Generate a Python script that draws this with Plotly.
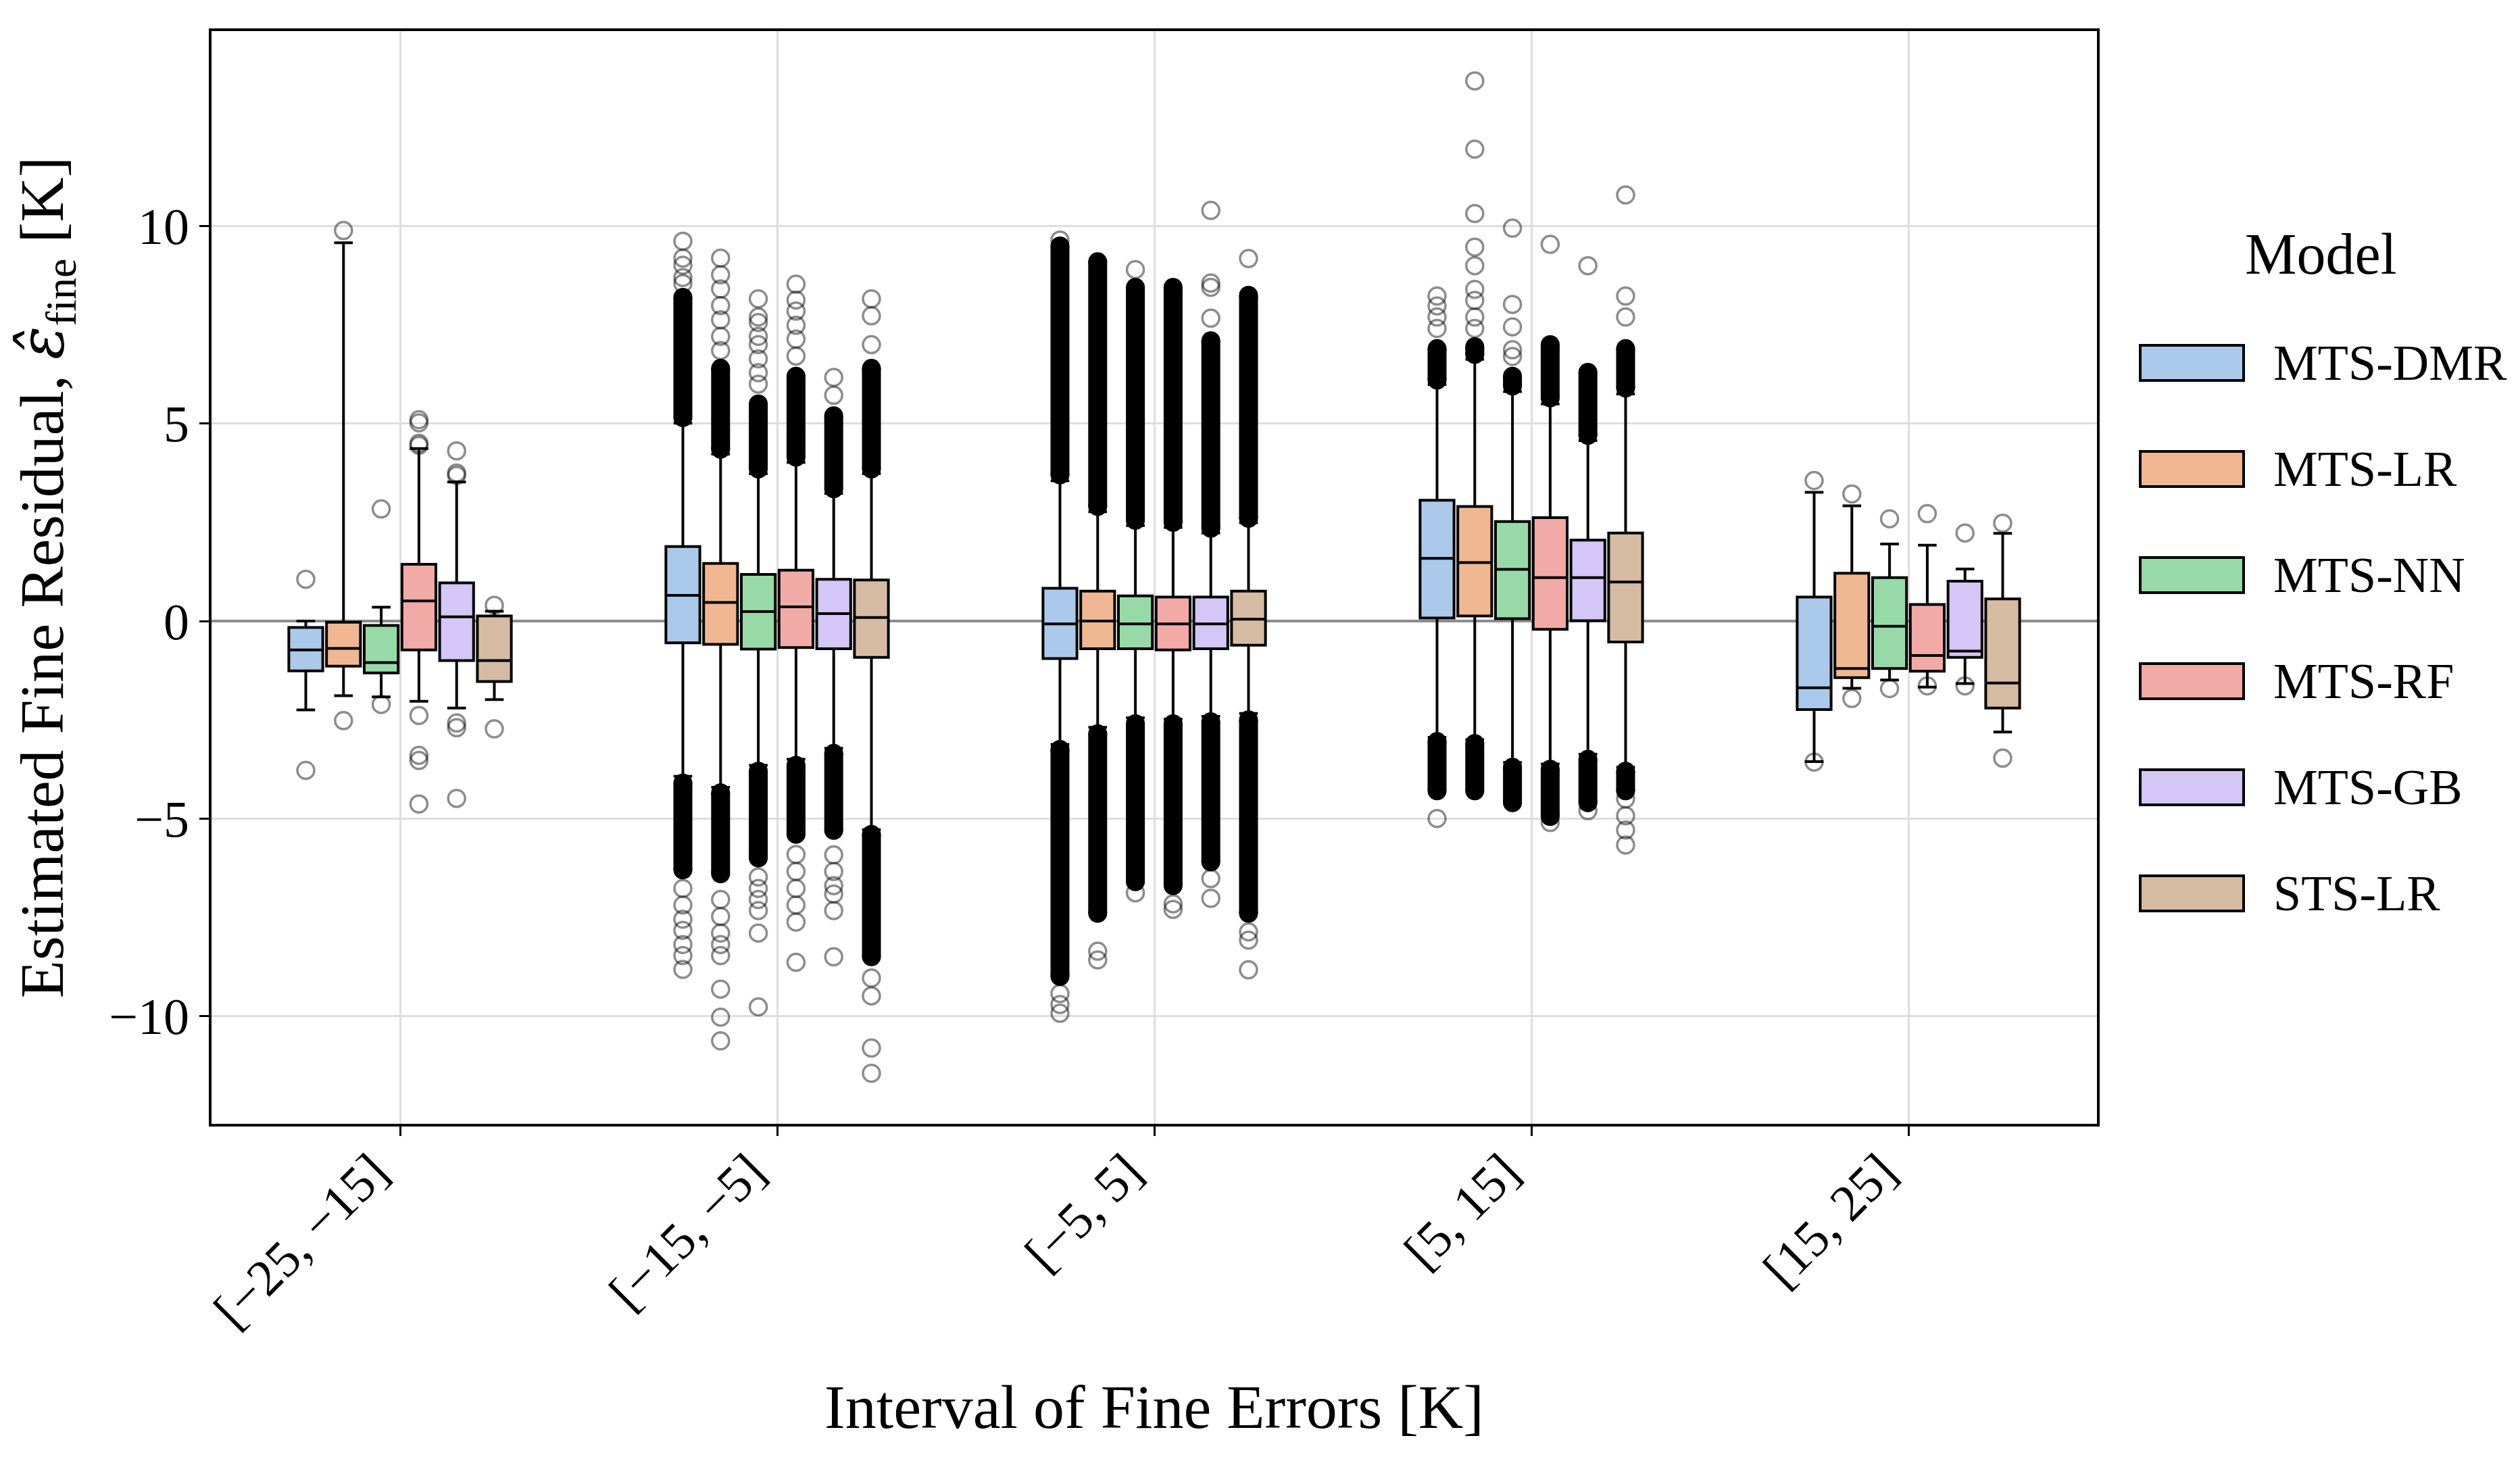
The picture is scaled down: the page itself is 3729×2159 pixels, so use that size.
import plotly.graph_objects as go

# ---------------- data ----------------
CATEGORIES = ["[−25, −15]", "[−15, −5]", "[−5, 5]", "[5, 15]", "[15, 25]"]
MODELS = ["MTS-DMR", "MTS-LR", "MTS-NN", "MTS-RF", "MTS-GB", "STS-LR"]

Q1 = {
    "MTS-DMR": [-1.26, -0.55, -0.95, 0.08, -2.24],
    "MTS-LR":  [-1.14, -0.59, -0.70, 0.13, -1.43],
    "MTS-NN":  [-1.31, -0.71, -0.70, 0.06, -1.20],
    "MTS-RF":  [-0.73, -0.67, -0.73, -0.21, -1.27],
    "MTS-GB":  [-1.00, -0.70, -0.70, 0.01, -0.92],
    "STS-LR":  [-1.53, -0.92, -0.61, -0.53, -2.20],
}
MEDIAN = {
    "MTS-DMR": [-0.73, 0.65, -0.07, 1.59, -1.69],
    "MTS-LR":  [-0.69, 0.47, 0.00, 1.48, -1.20],
    "MTS-NN":  [-1.05, 0.24, -0.07, 1.31, -0.13],
    "MTS-RF":  [0.51, 0.36, -0.07, 1.10, -0.87],
    "MTS-GB":  [0.11, 0.19, -0.07, 1.10, -0.76],
    "STS-LR":  [-1.00, 0.09, 0.05, 0.99, -1.57],
}
Q3 = {
    "MTS-DMR": [-0.16, 1.89, 0.83, 3.06, 0.61],
    "MTS-LR":  [-0.03, 1.46, 0.76, 2.90, 1.21],
    "MTS-NN":  [-0.11, 1.18, 0.64, 2.52, 1.10],
    "MTS-RF":  [1.44, 1.29, 0.61, 2.62, 0.42],
    "MTS-GB":  [0.97, 1.06, 0.61, 2.05, 1.01],
    "STS-LR":  [0.13, 1.04, 0.76, 2.23, 0.56],
}
LOWER_WHISKER = {
    "MTS-DMR": [-2.25, -3.93, -3.12, -2.94, -3.56],
    "MTS-LR":  [-1.89, -4.21, -2.69, -3.00, -1.70],
    "MTS-NN":  [-1.92, -3.65, -2.45, -3.58, -1.49],
    "MTS-RF":  [-2.03, -3.50, -2.48, -3.62, -1.67],
    "MTS-GB":  [-2.20, -3.22, -2.41, -3.37, -1.58],
    "STS-LR":  [-1.99, -5.28, -2.34, -3.70, -2.81],
}
UPPER_WHISKER = {
    "MTS-DMR": [0.00, 5.01, 3.55, 5.99, 3.26],
    "MTS-LR":  [9.58, 4.23, 2.77, 6.63, 2.92],
    "MTS-NN":  [0.35, 3.73, 2.42, 5.81, 1.95],
    "MTS-RF":  [4.37, 4.02, 2.37, 5.50, 1.92],
    "MTS-GB":  [3.52, 3.23, 2.23, 4.57, 1.32],
    "STS-LR":  [0.25, 3.73, 2.49, 5.75, 2.22],
}
# individually visible outliers, per interval
OUTLIERS = {
    "MTS-DMR": [[1.06, -3.78],
                [8.55, 8.70, 9.01, 9.19, 9.62, -6.77, -7.19, -7.55, -7.83, -8.19, -8.47, -8.82],
                [9.65, -9.43, -9.71, -9.93],
                [7.41, 7.70, 7.98, 8.23, -5.00],
                [3.56, -3.57]],
    "MTS-LR":  [[9.89, -2.52],
                [6.85, 7.21, 7.63, 7.99, 8.41, 8.77, 9.19, -7.05, -7.48, -7.90, -8.19, -8.47, -9.32, -10.03, -10.63],
                [-8.36, -8.58],
                [7.41, 7.70, 8.12, 8.40, 9.00, 9.47, 10.32, 11.95, 13.68],
                [3.22, -1.96]],
    "MTS-NN":  [[2.84, -2.11],
                [6.00, 6.29, 6.64, 7.00, 7.21, 7.56, 7.70, 8.16, -6.48, -6.77, -7.05, -7.33, -7.90, -9.77],
                [8.90, -6.88],
                [6.70, 6.87, 7.45, 8.02, 9.95],
                [2.59, -1.71]],
    "MTS-RF":  [[5.10, 5.02, 4.50, 4.45, -2.39, -3.40, -3.53, -4.63],
                [6.71, 7.14, 7.49, 7.85, 8.13, 8.53, -5.91, -6.34, -6.77, -7.19, -7.62, -8.64],
                [-7.16, -7.30],
                [9.54, -5.10],
                [2.72, -1.64]],
    "MTS-GB":  [[4.31, 3.75, 3.69, -2.58, -2.70, -4.49],
                [5.72, 6.17, -5.92, -6.34, -6.70, -6.91, -7.33, -8.50],
                [7.67, 8.45, 8.56, 10.40, -6.52, -7.02],
                [9.00, -4.80],
                [2.23, -1.64]],
    "STS-LR":  [[0.40, -2.73],
                [7.00, 7.73, 8.16, -9.04, -9.49, -10.81, -11.45],
                [9.18, -7.87, -8.08, -8.83],
                [7.70, 8.23, 10.79, -4.50, -4.93, -5.29, -5.67],
                [2.48, -3.47]],
}
# ranges where outliers overlap into a solid column (low, high), per interval
DENSE = {
    "MTS-DMR": [[], [(5.15, 8.20), (-4.10, -6.30)], [(3.70, 9.50), (-3.25, -9.00)], [(6.10, 6.90), (-3.05, -4.30)], []],
    "MTS-LR":  [[], [(4.35, 6.40), (-4.35, -6.40)], [(2.90, 9.10), (-2.85, -7.40)], [(6.75, 6.95), (-3.10, -4.30)], []],
    "MTS-NN":  [[], [(3.85, 5.50), (-3.80, -6.00)], [(2.55, 8.45), (-2.60, -6.60)], [(5.95, 6.20), (-3.70, -4.60)], []],
    "MTS-RF":  [[], [(4.15, 6.20), (-3.65, -5.40)], [(2.50, 8.45), (-2.60, -6.70)], [(5.65, 7.00), (-3.75, -4.95)], []],
    "MTS-GB":  [[], [(3.35, 5.20), (-3.35, -5.30)], [(2.35, 7.10), (-2.55, -6.10)], [(4.70, 6.30), (-3.50, -4.60)], []],
    "STS-LR":  [[], [(3.85, 6.40), (-5.40, -8.50)], [(2.60, 8.25), (-2.50, -7.40)], [(5.90, 6.90), (-3.80, -4.30)], []],
}

Y_TICKS = [-10, -5, 0, 5, 10]

# ---------------- style ----------------
COLORS = {
    "MTS-DMR": "rgb(171,201,234)",
    "MTS-LR":  "rgb(239,183,146)",
    "MTS-NN":  "rgb(152,218,167)",
    "MTS-RF":  "rgb(242,170,167)",
    "MTS-GB":  "rgb(212,198,246)",
    "STS-LR":  "rgb(214,187,163)",
}
FONT = "Liberation Serif"
OFF = 8                      # default page margin around the figure
W, H = 3729 - 2 * OFF, 2159 - 2 * OFF
ML, MR, MT, MB = 305, 618, 38, 488

fig = go.Figure()

for m in MODELS:
    fig.add_trace(go.Box(
        x=CATEGORIES, q1=Q1[m], median=MEDIAN[m], q3=Q3[m],
        lowerfence=LOWER_WHISKER[m], upperfence=UPPER_WHISKER[m],
        name=m, fillcolor=COLORS[m], line=dict(color="black", width=4),
        whiskerwidth=0.55, boxpoints=False, offsetgroup=m, alignmentgroup="all",
        showlegend=False, hoverinfo="skip",
    ))

for m in MODELS:
    xs, ys = [], []
    for cat, bands in zip(CATEGORIES, DENSE[m]):
        for lo, hi in bands:
            xs += [cat, cat, None]
            ys += [lo, hi, None]
    fig.add_trace(go.Scatter(
        x=xs, y=ys, mode="lines+markers",
        line=dict(color="black", width=28),
        marker=dict(size=28, color="black"),
        offsetgroup=m, alignmentgroup="all", showlegend=False, hoverinfo="skip",
    ))
    xo, yo = [], []
    for cat, vals in zip(CATEGORIES, OUTLIERS[m]):
        xo += [cat] * len(vals)
        yo += vals
    fig.add_trace(go.Scatter(
        x=xo, y=yo, mode="markers",
        marker=dict(symbol="circle-open", size=25, color="rgba(0,0,0,0.45)",
                    line=dict(width=3.5)),
        offsetgroup=m, alignmentgroup="all", showlegend=False, hoverinfo="skip",
    ))

# manual legend (wide patches like the original); page pixel -> paper coords
pw = W - ML - MR
ph = H - MT - MB
def px_x(X):
    return (X - OFF - ML) / pw
def px_y(Y):
    return (OFF + H - MB - Y) / ph

shapes = []
annotations = []
for i, m in enumerate(MODELS):
    cy = 537 + 157 * i
    shapes.append(dict(type="rect", xref="paper", yref="paper",
                       x0=px_x(3167), x1=px_x(3320), y0=px_y(cy + 26), y1=px_y(cy - 26),
                       fillcolor=COLORS[m], line=dict(color="black", width=4)))
    annotations.append(dict(text=m, xref="paper", yref="paper", x=px_x(3362), y=px_y(cy),
                            xanchor="left", yanchor="middle", showarrow=False,
                            font=dict(family=FONT, size=74, color="black")))
annotations.append(dict(text="Model", xref="paper", yref="paper", x=px_x(3434), y=px_y(376),
                        xanchor="center", yanchor="middle", showarrow=False,
                        font=dict(family=FONT, size=86, color="black")))

axis_common = dict(
    showgrid=True, gridcolor="rgb(222,222,222)", gridwidth=2.5,
    ticks="outside", ticklen=14, tickwidth=3, tickcolor="black",
    showline=True, mirror=True, linecolor="black", linewidth=3.5,
    tickfont=dict(family=FONT, size=76, color="black"),
)

fig.update_layout(
    width=W, height=H,
    margin=dict(l=ML, r=MR, t=MT, b=MB, autoexpand=False),
    paper_bgcolor="white", plot_bgcolor="white",
    font=dict(family=FONT, color="black"),
    boxmode="group", boxgap=0.4, boxgroupgap=0.1,
    scattermode="group", scattergap=0.4,
    shapes=shapes, annotations=annotations,
    xaxis=dict(type="category", categoryorder="array", categoryarray=CATEGORIES,
               range=[-0.5, 4.5], tickangle=-45,
               ticklabelshift=-40, ticklabelstandoff=-22,
               title=dict(text="Interval of Fine Errors [K]",
                          font=dict(family=FONT, size=92, color="black"), standoff=70),
               **axis_common),
    yaxis=dict(range=[-12.73, 14.94], tickvals=Y_TICKS,
               zeroline=True, zerolinecolor="rgb(140,140,140)", zerolinewidth=3.5,
               title=dict(text="Estimated Fine Residual, "
                               "<span style=\"font-family:'DejaVu Serif'\"><i>ε̂</i></span>"
                               "<sub>fine</sub> [K]",
                          font=dict(family=FONT, size=92, color="black"), standoff=42),
               **axis_common),
)

fig.write_html("out.html")
